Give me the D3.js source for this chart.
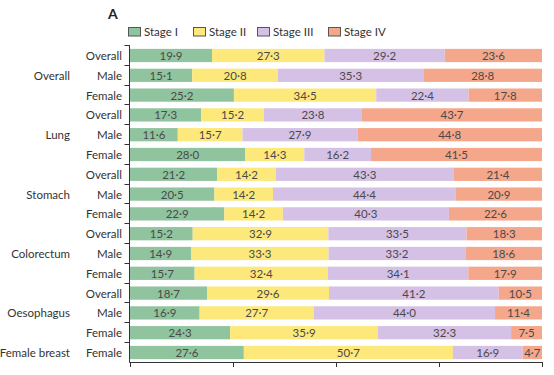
<!DOCTYPE html>
<html><head><meta charset="utf-8">
<script src="https://cdn.jsdelivr.net/npm/d3@7"></script>
<style>
body{margin:0;background:#fff;}
text{font-family:Lato,"Open Sans",sans-serif;}
</style></head>
<body><svg id="c" width="554" height="375"></svg>
<script>
const stages = ["Stage I","Stage II","Stage III","Stage IV"];
const colors = ["#8fc49f","#fde87b","#d5c1e6","#f5a78b"];
const groups = ["Overall","Lung","Stomach","Colorectum","Oesophagus","Female breast"];
const rowGroup = ["Overall","Overall","Overall","Lung","Lung","Lung","Stomach","Stomach","Stomach","Colorectum","Colorectum","Colorectum","Oesophagus","Oesophagus","Oesophagus","Female breast"];
const rowSex = ["Overall","Male","Female","Overall","Male","Female","Overall","Male","Female","Overall","Male","Female","Overall","Male","Female","Female"];
const stageI   = [19.9,15.1,25.2,17.3,11.6,28.0,21.2,20.5,22.9,15.2,14.9,15.7,18.7,16.9,24.3,27.6];
const stageII  = [27.3,20.8,34.5,15.2,15.7,14.3,14.2,14.2,14.2,32.9,33.3,32.4,29.6,27.7,35.9,50.7];
const stageIII = [29.2,35.3,22.4,23.8,27.9,16.2,43.3,44.4,40.3,33.5,33.2,34.1,41.2,44.0,32.3,16.9];
const stageIV  = [23.6,28.8,17.8,43.7,44.8,41.5,21.4,20.9,22.6,18.3,18.6,17.9,10.5,11.4,7.5,4.7];
const xTicks = [0,25,50,75,100];

const svg = d3.select("#c");
const rows = rowSex.map((s,i)=>({id:i, group:rowGroup[i], sex:s,
  "Stage I":stageI[i], "Stage II":stageII[i], "Stage III":stageIII[i], "Stage IV":stageIV[i]}));

const x = d3.scaleLinear().domain([0,100]).range([130,542]);
const y = d3.scaleBand().domain(rows.map(d=>d.id)).range([45,362]).paddingInner(0.33).paddingOuter(0.17);
const color = d3.scaleOrdinal().domain(stages).range(colors);

const stack = d3.stack().keys(stages).offset(d3.stackOffsetExpand);
const series = stack(rows);

const fmt = v => v.toFixed(1).replace(".", "\u00b7");

const gS = svg.append("g").selectAll("g").data(series).join("g").attr("fill", d=>color(d.key));
gS.selectAll("rect").data(d=>d.map(p=>({p, key:d.key}))).join("rect")
  .attr("x", d=>x(d.p[0]*100)).attr("width", d=>x(d.p[1]*100)-x(d.p[0]*100))
  .attr("y", d=>y(d.p.data.id)+0.5).attr("height", y.bandwidth());

const gL = svg.append("g").selectAll("g").data(series).join("g");
gL.selectAll("text").data(d=>d.map(p=>({p, key:d.key}))).join("text")
  .attr("x", d=>(x(d.p[0]*100)+x(d.p[1]*100))/2)
  .attr("y", d=>y(d.p.data.id)+y.bandwidth()/2+1)
  .attr("dy","0.35em").attr("text-anchor","middle")
  .attr("font-size",11.5).attr("fill","#4a4a4a")
  .text(d=>fmt(d.p.data[d.key]));

// y axis
const step = y.step();
const boundaries = rows.map((d,i)=>45 + i*step);
const ya = svg.append("g").attr("stroke","#333").attr("stroke-width",1);
ya.append("line").attr("x1",129.5).attr("x2",129.5).attr("y1",45).attr("y2",362.5);
ya.selectAll(".t").data(boundaries).join("line")
  .attr("x1",124.5).attr("x2",129.5).attr("y1",d=>Math.round(d)+0.5).attr("y2",d=>Math.round(d)+0.5);

// x axis
const xa = svg.append("g").attr("transform","translate(0,362)")
  .call(d3.axisBottom(x).tickValues(xTicks).tickSize(5).tickFormat(""));
xa.select(".domain").attr("stroke","#333").attr("d","M129.5,0.5H542.5");
xa.selectAll(".tick line").attr("stroke","#333");

// row labels
svg.append("g").selectAll("text").data(rows).join("text")
  .attr("x",122).attr("y",d=>y(d.id)+y.bandwidth()/2+1).attr("dy","0.35em")
  .attr("text-anchor","end").attr("font-size",11.5).attr("fill","#333").text(d=>d.sex);

// group labels
svg.append("g").selectAll("text").data(groups).join("text")
  .attr("x",70)
  .attr("y",g=>{const ids=rows.filter(r=>r.group===g).map(r=>r.id); return y(ids[Math.floor(ids.length/2)])+y.bandwidth()/2+1;})
  .attr("dy","0.35em").attr("text-anchor","end").attr("font-size",11.5).attr("fill","#333").text(g=>g);

// panel letter
svg.append("text").attr("x",108).attr("y",19).attr("font-size",14).attr("font-weight","bold")
  .attr("fill","#222").text("A");

// legend
const legX = [128,193,257,328];
const lg = svg.append("g").selectAll("g").data(stages).join("g")
  .attr("transform",(d,i)=>`translate(${legX[i]},27)`);
lg.append("rect").attr("x",0.5).attr("y",0.5).attr("width",12).attr("height",8.5)
  .attr("fill",d=>color(d)).attr("stroke","#555").attr("stroke-width",1);
lg.append("text").attr("x",16).attr("y",5).attr("dy","0.35em").attr("font-size",11.5)
  .attr("fill","#333").text(d=>d);
</script>
</body></html>
